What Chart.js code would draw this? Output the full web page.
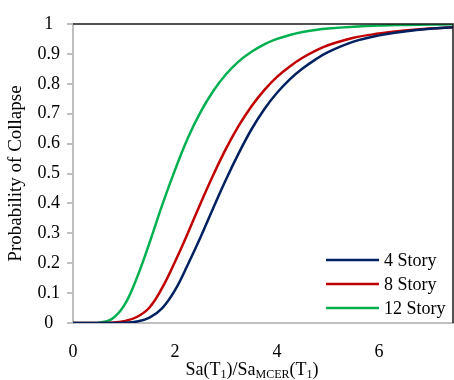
<!DOCTYPE html>
<html>
<head>
<meta charset="utf-8">
<script src="https://cdn.jsdelivr.net/npm/chart.js@4"></script>
<style>
  body { margin: 0; background: #fff; }
  #wrap { position: relative; width: 454px; height: 380px; }
  #xtitle {
    position: absolute; left: 0; width: 504px; top: 358px;
    text-align: center; font: 18px "Liberation Serif", serif; color: #000;
    line-height: 22px; white-space: nowrap;
  }
  #xtitle sub { font-size: 12px; vertical-align: -3px; }
</style>
</head>
<body>
<div id="wrap">
  <canvas id="collapse" width="454" height="380"></canvas>
  <div id="xtitle">Sa(T<sub>1</sub>)/Sa<sub>MCER</sub>(T<sub>1</sub>)</div>
</div>
<script>
// Sa(T1)/Sa_MCER(T1) values
const saRatio = [0, 0.25, 0.5, 0.75, 1, 1.25, 1.5, 1.75, 2, 2.25, 2.5, 2.75, 3, 3.25, 3.5, 3.75, 4, 4.25, 4.5, 4.75, 5, 5.5, 6, 6.5, 7, 7.45]

const story4 = [0, 0, 0, 0, 0.001, 0.005, 0.018, 0.05, 0.11, 0.195, 0.287, 0.385, 0.48, 0.568, 0.648, 0.715, 0.77, 0.815, 0.851, 0.881, 0.906, 0.941, 0.962, 0.975, 0.984, 0.989]
const story8 = [0, 0, 0, 0.001, 0.006, 0.02, 0.052, 0.118, 0.205, 0.30, 0.40, 0.495, 0.583, 0.66, 0.725, 0.779, 0.823, 0.858, 0.887, 0.91, 0.929, 0.954, 0.968, 0.978, 0.985, 0.989]
const story12 = [0, 0, 0.001, 0.012, 0.058, 0.15, 0.268, 0.395, 0.512, 0.618, 0.705, 0.776, 0.832, 0.875, 0.907, 0.932, 0.95, 0.963, 0.973, 0.98, 0.985, 0.991, 0.995, 0.997, 0.998, 0.999]

const seriesNames = ['4 Story', '8 Story', '12 Story']
const seriesColors = ['#002060', '#C00000', '#00B050']
const seriesValues = [story4, story8, story12]

const xTicks = [0, 2, 4, 6]

const serif = '"Liberation Serif", "Times New Roman", serif'

const toPoints = (ys) => saRatio.map((x, i) => ({ x: x, y: ys[i] }))

// top + right frame lines and the legend inside the plot
const framePlugin = {
  id: 'frame',
  afterDraw(chart) {
    const { ctx, chartArea } = chart
    ctx.save()
    ctx.strokeStyle = '#1a1a1a'
    ctx.lineWidth = 1.5
    ctx.beginPath()
    ctx.moveTo(chartArea.left, chartArea.top)
    ctx.lineTo(chartArea.right, chartArea.top)
    ctx.lineTo(chartArea.right, chartArea.bottom)
    ctx.stroke()

    // legend
    ctx.font = '18px ' + serif
    ctx.fillStyle = '#000'
    ctx.textBaseline = 'middle'
    ctx.textAlign = 'left'
    const rowY = [260, 284, 308]
    chart.data.datasets.forEach((ds, i) => {
      ctx.strokeStyle = ds.borderColor
      ctx.lineWidth = 2.5
      ctx.beginPath()
      ctx.moveTo(326, rowY[i])
      ctx.lineTo(379, rowY[i])
      ctx.stroke()
      ctx.fillText(ds.label, 384, rowY[i] + 1)
    })
    ctx.restore()
  }
}

new Chart(document.getElementById('collapse'), {
  type: 'line',
  data: {
    datasets: seriesNames.map((name, i) => ({
      label: name,
      data: toPoints(seriesValues[i]),
      borderColor: seriesColors[i],
      backgroundColor: seriesColors[i],
      borderWidth: 2.5,
      pointRadius: 0,
      fill: false,
      tension: 0.4
    }))
  },
  options: {
    responsive: false,
    animation: false,
    layout: { padding: { top: 24, right: 1, left: 0, bottom: 0 } },
    plugins: {
      legend: { display: false },
      tooltip: { enabled: false }
    },
    scales: {
      x: {
        type: 'linear',
        min: 0,
        max: 7.45,
        afterFit(scale) { scale.height = 57 },
        afterBuildTicks(scale) { scale.ticks = xTicks.map(v => ({ value: v })) },
        grid: { display: false },
        border: { color: '#bfbfbf', width: 2 },
        ticks: {
          color: '#000',
          padding: 10,
          font: { family: serif, size: 18 }
        }
      },
      y: {
        min: 0,
        max: 1,
        afterFit(scale) { scale.width = 73 },
        grid: { drawOnChartArea: false, tickLength: 6, color: '#bfbfbf', lineWidth: 2 },
        border: { color: '#bfbfbf', width: 2 },
        ticks: {
          stepSize: 0.1,
          color: '#000',
          padding: 7,
          crossAlign: 'center',
          font: { family: serif, size: 18 },
          callback: (v) => String(Number(v.toFixed(1)))
        },
        title: {
          display: true,
          text: 'Probability of Collapse',
          color: '#000',
          padding: { top: 5, bottom: 0 },
          font: { family: serif, size: 19 }
        }
      }
    }
  },
  plugins: [framePlugin]
})
</script>
</body>
</html>
